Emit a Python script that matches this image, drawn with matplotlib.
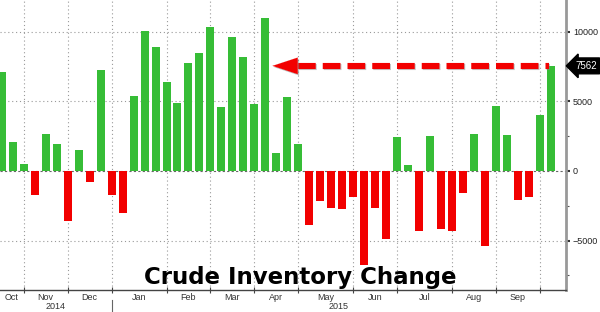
import numpy as np
import matplotlib
matplotlib.use("Agg")
import matplotlib.pyplot as plt
import matplotlib.patheffects as pe

# weekly change in crude inventories (thousand barrels), Oct 2014 - Sep 2015
changes = [
    7150, 2100, 500, -1700, 2650, 1960, -3600, 1480, -820, 7300,
    -1700, -3000, 5400, 10100, 8950, 6370, 4900, 7770, 8490, 10350,
    4580, 9640, 8220, 4820, 10980, 1300, 5350, 1940, -3860, -2140,
    -2660, -2760, -1900, -6740, -2660, -4890, 2440, 430, -4300, 2490,
    -4150, -4340, -1610, 2660, -5420, 4700, 2610, -2060, -1870, 4030,
    7562,
]
# week index where each new month starts
month_starts = [2, 6, 10, 15, 19, 23, 27, 32, 36, 41, 45, 49]
month_names = ["Oct", "Nov", "Dec", "Jan", "Feb", "Mar", "Apr",
               "May", "Jun", "Jul", "Aug", "Sep"]
years = ["2014", "2015"]
year_start = 10  # first week of 2015
last_value = changes[-1]
peak_week = 24

green = "#36bd36"
red = "#f20000"

fig = plt.figure(figsize=(6, 3.12), dpi=100)
ax = fig.add_axes([0.0, 0.0705, 0.9433, 0.9295])

x = np.arange(len(changes))
vals = np.array(changes)
colors = [green if v >= 0 else red for v in vals]
ax.bar(x, vals, width=0.73, color=colors, zorder=3)

x_lo, x_hi = -0.164, 51.38
ax.set_xlim(x_lo, x_hi)
ax.set_ylim(-8560, 12300)

# grid
for m in month_starts:
    ax.axvline(m, color="#999999", lw=0.8, ls=(0, (1, 2.5)), zorder=1)
for yv in [10000, 5000, -5000]:
    ax.axhline(yv, color="#999999", lw=0.8, ls=(0, (1, 2.5)), zorder=1)
ax.axhline(0, color="#666666", lw=0.8, ls=(0, (2, 2)), zorder=1)

# spines
for s in ["top", "left"]:
    ax.spines[s].set_visible(False)
ax.spines["right"].set_color("#999999")
ax.spines["right"].set_linewidth(2)
ax.spines["bottom"].set_color("#444444")
ax.spines["bottom"].set_linewidth(1)

# y axis on right
ax.yaxis.tick_right()
ax.set_yticks([-5000, 0, 5000, 10000])
ax.set_yticks([-7500, -2500, 2500, 7500], minor=True)
ax.tick_params(axis="y", which="major", length=3, width=1.5, color="#333333",
               labelsize=6.5, labelcolor="#222222", pad=2)
ax.tick_params(axis="y", which="minor", length=2, width=0.8, color="#555555")
for lab in ax.get_yticklabels():
    lab.set_family("Liberation Sans")

# x axis: ticks at month boundaries, labels centred on months
ax.set_xticks(month_starts)
ax.set_xticklabels([])
ax.tick_params(axis="x", which="major", direction="inout", length=4,
               width=0.8, color="#444444")
bounds = [x_lo] + month_starts[:-1]
ends = month_starts
xt = ax.get_xaxis_transform()
for name, a, b in zip(month_names, bounds, ends):
    ax.text((a + b) / 2, -0.025, name, transform=xt, ha="center", va="center",
            fontsize=6.5, color="#333333", family="Liberation Sans")
year_mid = [(x_lo + year_start) / 2, (year_start + x_hi) / 2]
for yr, xm in zip(years, year_mid):
    ax.text(xm, -0.058, yr, transform=xt, ha="center", va="center",
            fontsize=6.5, color="#333333", family="Liberation Sans")
ax.plot([year_start, year_start], [-0.035, -0.08], transform=xt,
        color="#666666", lw=0.8, clip_on=False)

# red dashed arrow back to the previous peak
shadow = [pe.SimpleLineShadow(offset=(1, -1), shadow_color="#888888", alpha=0.5),
          pe.Normal()]
ax.plot([peak_week + 2.98, len(changes) - 1.2], [last_value, last_value],
        color=red, lw=4.4, ls=(0, (2.9, 1.15)), solid_capstyle="butt",
        dash_capstyle="butt", zorder=5, path_effects=shadow)
ax.annotate("", xy=(peak_week + 0.65, last_value),
            xytext=(peak_week + 3.0, last_value),
            arrowprops=dict(arrowstyle="-|>,head_length=1.0,head_width=0.33",
                            mutation_scale=18, color=red, lw=0.1,
                            shrinkA=0, shrinkB=0,
                            path_effects=[pe.withSimplePatchShadow(
                                offset=(1, -1), shadow_rgbFace="#888888", alpha=0.5)]),
            zorder=6)

# last value tag
ax.text(1.016, last_value, f"{last_value}", transform=ax.get_yaxis_transform(),
        ha="left", va="center", fontsize=7, color="white",
        family="Liberation Sans",
        bbox=dict(boxstyle="larrow,pad=0.3", fc="black", ec="black"),
        clip_on=False, zorder=7)

fig.text(0.5, 0.0897, "Crude Inventory Change", ha="center", va="baseline",
         fontsize=16.5, fontweight="bold", color="black")

fig.savefig("out.png", dpi=100)
